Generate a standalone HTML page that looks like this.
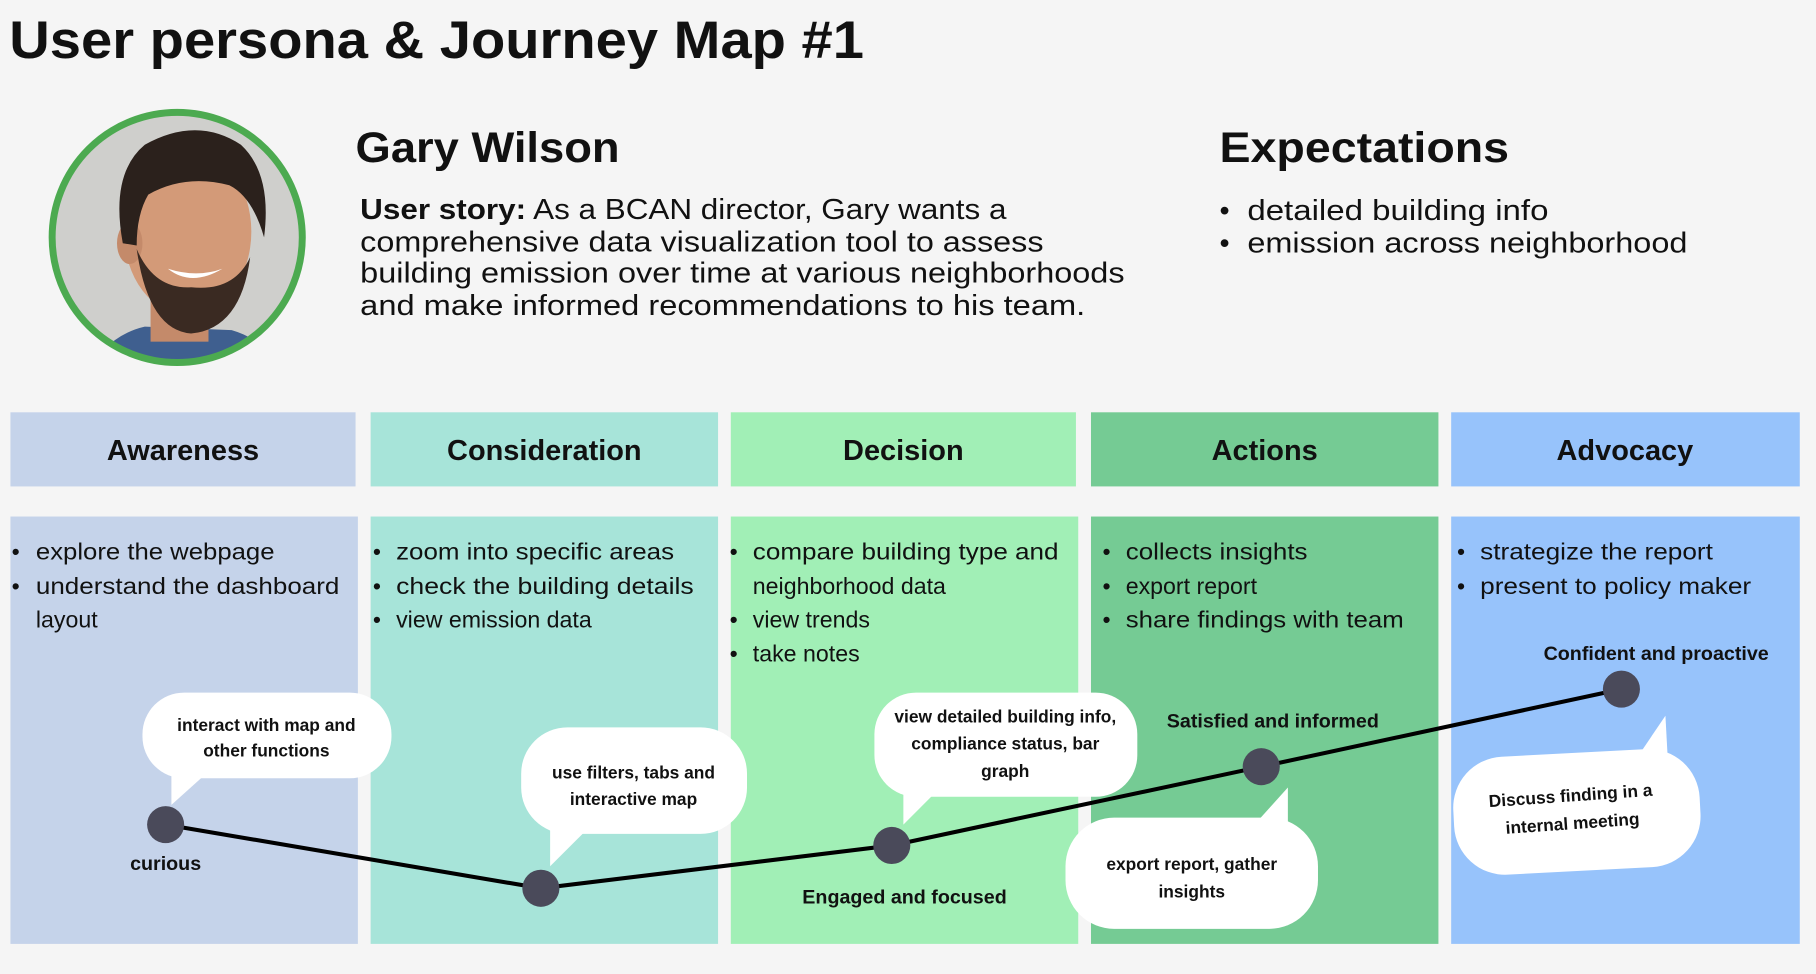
<!DOCTYPE html>
<html><head><meta charset="utf-8"><style>
html,body{margin:0;padding:0;background:#f5f5f5;width:1816px;height:974px;overflow:hidden}
svg{display:block}
text{font-family:"Liberation Sans",sans-serif;fill:#111}
.b{font-weight:bold}
.h{font-size:25px;font-weight:bold;text-anchor:middle}
.li{font-size:20px}
.bub{font-size:15px;font-weight:bold;text-anchor:middle}
.lab{font-size:17px;font-weight:bold;text-anchor:middle}
</style></head><body>
<svg width="1816" height="974" viewBox="0 0 1568 841" xmlns="http://www.w3.org/2000/svg">
<rect width="1568" height="841" fill="#f5f5f5"/>
<text x="8" y="50" style="font-size:46px;font-weight:bold" textLength="738" lengthAdjust="spacingAndGlyphs">User persona &amp; Journey Map #1</text>
<defs><clipPath id="c"><circle cx="153" cy="205" r="106"/></clipPath></defs>
<circle cx="153" cy="205" r="107" fill="#d3d3d1"/>
<g clip-path="url(#c)">
<rect x="40" y="90" width="230" height="230" fill="#cfcfcc"/>
<path d="M70 330 Q90 290 125 282 L200 285 Q235 295 245 330Z" fill="#3f5f8f"/>
<rect x="130" y="250" width="50" height="45" fill="#c48a6a"/>
<ellipse cx="162" cy="200" rx="55" ry="72" fill="#d39a78"/>
<ellipse cx="112" cy="210" rx="11" ry="18" fill="#c48a6a"/>
<path d="M106 210 Q95 150 125 125 Q170 100 208 125 Q235 150 228 205 Q218 170 198 160 Q160 150 128 168 Q118 185 118 212Z" fill="#2b211c"/>
<path d="M118 215 Q128 285 165 288 Q208 284 216 222 Q202 252 165 248 Q133 250 118 215Z" fill="#3a2a22"/>
<path d="M145 232 Q165 248 192 232 Q170 240 145 232Z" fill="#fff"/>
</g>
<circle cx="153" cy="205" r="108" fill="none" stroke="#4caa50" stroke-width="6"/>
<text x="307" y="140" style="font-size:37px;font-weight:bold" textLength="228" lengthAdjust="spacingAndGlyphs">Gary Wilson</text>
<g style="font-size:25px">
<text x="311" y="189" textLength="558" lengthAdjust="spacingAndGlyphs"><tspan class="b">User story:</tspan> As a BCAN director, Gary wants a</text>
<text x="311" y="217" textLength="590" lengthAdjust="spacingAndGlyphs">comprehensive data visualization tool to assess</text>
<text x="311" y="244" textLength="660" lengthAdjust="spacingAndGlyphs">building emission over time at various neighborhoods</text>
<text x="311" y="272" textLength="626" lengthAdjust="spacingAndGlyphs">and make informed recommendations to his team.</text>
</g>
<text x="1053" y="140" style="font-size:37px;font-weight:bold" textLength="250" lengthAdjust="spacingAndGlyphs">Expectations</text>
<g style="font-size:25px">
<text x="1053" y="190">•</text><text x="1077" y="190" textLength="260" lengthAdjust="spacingAndGlyphs">detailed building info</text>
<text x="1053" y="218">•</text><text x="1077" y="218" textLength="380" lengthAdjust="spacingAndGlyphs">emission across neighborhood</text>
</g>
<rect x="9" y="356" width="298" height="64" fill="#c5d3ea"/>
<rect x="320" y="356" width="300" height="64" fill="#a7e4d9"/>
<rect x="631" y="356" width="298" height="64" fill="#a1efb6"/>
<rect x="942" y="356" width="300" height="64" fill="#75cb94"/>
<rect x="1253" y="356" width="301" height="64" fill="#97c3fb"/>
<text class="h" x="158" y="397">Awareness</text>
<text class="h" x="470" y="397">Consideration</text>
<text class="h" x="780" y="397">Decision</text>
<text class="h" x="1092" y="397">Actions</text>
<text class="h" x="1403" y="397">Advocacy</text>
<rect x="9" y="446" width="300" height="369" fill="#c5d3ea"/>
<rect x="320" y="446" width="300" height="369" fill="#a7e4d9"/>
<rect x="631" y="446" width="300" height="369" fill="#a1efb6"/>
<rect x="942" y="446" width="300" height="369" fill="#75cb94"/>
<rect x="1253" y="446" width="301" height="369" fill="#97c3fb"/>
<g class="li">
<text x="10" y="483">•</text><text x="31" y="483" textLength="206" lengthAdjust="spacingAndGlyphs">explore the webpage</text>
<text x="10" y="513">•</text><text x="31" y="513" textLength="262" lengthAdjust="spacingAndGlyphs">understand the dashboard</text>
<text x="31" y="542">layout</text>
<text x="322" y="483">•</text><text x="342" y="483" textLength="240" lengthAdjust="spacingAndGlyphs">zoom into specific areas</text>
<text x="322" y="513">•</text><text x="342" y="513" textLength="257" lengthAdjust="spacingAndGlyphs">check the building  details</text>
<text x="322" y="542">•</text><text x="342" y="542">view emission data</text>
<text x="630" y="483">•</text><text x="650" y="483" textLength="264" lengthAdjust="spacingAndGlyphs">compare building type and</text>
<text x="650" y="513">neighborhood data</text>
<text x="630" y="542">•</text><text x="650" y="542">view trends</text>
<text x="630" y="571">•</text><text x="650" y="571">take notes</text>
<text x="952" y="483">•</text><text x="972" y="483" textLength="157" lengthAdjust="spacingAndGlyphs">collects insights</text>
<text x="952" y="513">•</text><text x="972" y="513">export report</text>
<text x="952" y="542">•</text><text x="972" y="542" textLength="240" lengthAdjust="spacingAndGlyphs">share findings with team</text>
<text x="1258" y="483">•</text><text x="1278" y="483" textLength="201" lengthAdjust="spacingAndGlyphs">strategize the report</text>
<text x="1258" y="513">•</text><text x="1278" y="513" textLength="234" lengthAdjust="spacingAndGlyphs">present to policy maker</text>
</g>
<g fill="#fff">
<rect x="123" y="598" width="215" height="74" rx="36"/>
<path d="M148 668 L148 695 L178 668Z"/>
<rect x="450" y="628" width="195" height="92" rx="40"/>
<path d="M475 715 L475 748 L508 715Z"/>
<rect x="755" y="598" width="227" height="90" rx="36"/>
<path d="M780 684 L780 712 L808 684Z"/>
<rect x="920" y="706" width="218" height="96" rx="42"/>
<path d="M1085 710 L1112 680 L1112 710Z"/>
<g transform="rotate(-3 1362 700)"><rect x="1255" y="650" width="213" height="102" rx="44"/></g>
<path d="M1415 652 L1438 618 L1440 655Z"/>
</g>
<g class="bub">
<text x="230" y="631">interact with map and</text>
<text x="230" y="653">other functions</text>
<text x="547" y="672">use filters, tabs and</text>
<text x="547" y="695">interactive map</text>
<text x="868" y="624">view detailed building info,</text>
<text x="868" y="647">compliance status, bar</text>
<text x="868" y="671">graph</text>
<text x="1029" y="751">export report, gather</text>
<text x="1029" y="775">insights</text>
<g transform="rotate(-4 1357 700)"><text x="1357" y="692">Discuss finding in a</text><text x="1357" y="716">internal meeting</text></g>
</g>
<polyline points="143,712 467,767 770,730 1089,662 1400,595" fill="none" stroke="#000" stroke-width="3.5"/>
<g fill="#4a4a5a">
<circle cx="143" cy="712" r="16"/>
<circle cx="467" cy="767" r="16"/>
<circle cx="770" cy="730" r="16"/>
<circle cx="1089" cy="662" r="16"/>
<circle cx="1400" cy="595" r="16"/>
</g>
<g class="lab">
<text x="143" y="751">curious</text>
<text x="781" y="780">Engaged and focused</text>
<text x="1099" y="628">Satisfied and informed</text>
<text x="1430" y="570">Confident and proactive</text>
</g>
</svg>
</body></html>
